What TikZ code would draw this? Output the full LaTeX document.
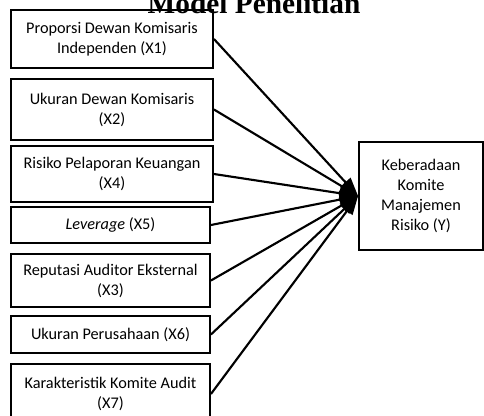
\documentclass[tikz,border=0pt]{standalone}
\usepackage{fontspec}
\setmainfont{Carlito}
\newfontfamily\judulfont{Liberation Serif}
\usetikzlibrary{arrows.meta}

\tikzset{
  kotak/.style={draw, line width=1.4pt, align=center, inner sep=0pt,
    font=\fontsize{12.2}{15}\selectfont},
  panah/.style={line width=1.6pt, -{Triangle[length=14pt,width=10pt]}}
}

\begin{document}
\begin{tikzpicture}[x=0.75pt, y=-0.75pt]
        \useasboundingbox (0,0) rectangle (484,416);
        \clip (0,0) rectangle (484,416);

        % Judul
        \node[anchor=base, font=\judulfont\bfseries\fontsize{22}{26}\selectfont] (judul) at (254,13.5) {Model Penelitian};

        % Variabel independen
        \node[kotak, minimum width=202*0.75pt, minimum height=58*0.75pt] (x1) at (112,39) {Proporsi Dewan Komisaris\\Independen (X1)};
        \node[kotak, minimum width=202*0.75pt, minimum height=61*0.75pt] (x2) at (112,109.5) {Ukuran Dewan Komisaris\\(X2)};
        \node[kotak, minimum width=202*0.75pt, minimum height=56*0.75pt] (x4) at (112,174) {Risiko Pelaporan Keuangan\\(X4)};
        \node[kotak, minimum width=199*0.75pt, minimum height=36*0.75pt] (x5) at (110.5,225) {\textit{Leverage} (X5)};
        \node[kotak, minimum width=199*0.75pt, minimum height=53*0.75pt] (x3) at (110.5,280.5) {Reputasi Auditor Eksternal\\(X3)};
        \node[kotak, minimum width=199*0.75pt, minimum height=37*0.75pt] (x6) at (110.5,334.5) {Ukuran Perusahaan (X6)};
        \node[kotak, minimum width=199*0.75pt, minimum height=60*0.75pt] (x7) at (110.5,394) {Karakteristik Komite Audit\\(X7)};

        % Variabel dependen
        \node[kotak, minimum width=124*0.75pt, minimum height=108*0.75pt] (y) at (421,196) {Keberadaan\\Komite\\Manajemen\\Risiko (Y)};

        % Panah
        \foreach \v in {x1,x2,x4,x5,x3,x6,x7}
          \draw[panah] (\v.east) -- (y.west);
    \end{tikzpicture}
\end{document}
